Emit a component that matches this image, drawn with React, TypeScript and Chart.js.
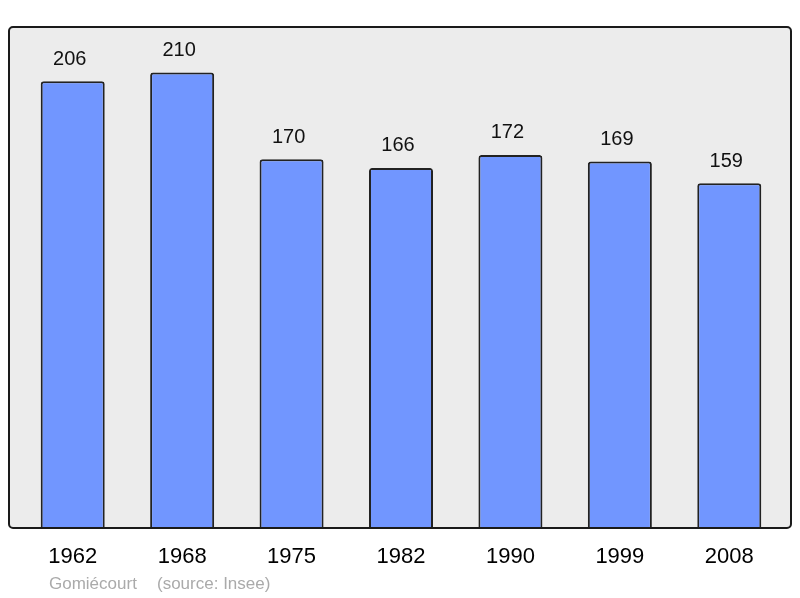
import React, { useEffect, useRef } from "react";
import { Chart, registerables } from "chart.js";

Chart.register(...registerables);

const years = ["1962", "1968", "1975", "1982", "1990", "1999", "2008"];
const population = [206, 210, 170, 166, 172, 169, 159];
const placeName = "Gomiécourt";
const sourceText = "(source: Insee)";

const FONT = "'Liberation Sans', Arial, sans-serif";

const framePlugin = {
  id: "frame",
  beforeDatasetsDraw(chart: any) {
    const { ctx, chartArea } = chart;
    const l = chartArea.left - 9, r = chartArea.right + 7, t = chartArea.top, b = chartArea.bottom;
    ctx.save();
    ctx.beginPath();
    ctx.roundRect(l, t, r - l, b - t, 4);
    ctx.fillStyle = "#ececec";
    ctx.fill();
    ctx.restore();
  },
  afterDatasetsDraw(chart: any) {
    const { ctx, chartArea } = chart;
    const l = chartArea.left - 9, r = chartArea.right + 7, t = chartArea.top, b = chartArea.bottom;
    const meta = chart.getDatasetMeta(0);
    ctx.save();
    ctx.font = `20px ${FONT}`;
    ctx.fillStyle = "#111";
    ctx.textAlign = "center";
    ctx.textBaseline = "middle";
    meta.data.forEach((bar: any, i: number) => {
      ctx.fillText(String(population[i]), bar.x - 3, bar.y - 22);
    });
    ctx.beginPath();
    ctx.roundRect(l, t, r - l, b - t, 4);
    ctx.lineWidth = 2;
    ctx.strokeStyle = "#1a1a1a";
    ctx.stroke();
    ctx.font = `17px ${FONT}`;
    ctx.fillStyle = "#aaaaaa";
    ctx.textAlign = "left";
    ctx.textBaseline = "alphabetic";
    ctx.fillText(placeName, l + 40, 589);
    ctx.fillText(sourceText, l + 148, 589);
    ctx.restore();
  },
};

export default function App() {
  const ref = useRef<HTMLCanvasElement>(null);
  useEffect(() => {
    document.body.style.margin = "0";
    const chart = new Chart(ref.current!, {
      type: "bar",
      data: {
        labels: years,
        datasets: [
          {
            data: population,
            backgroundColor: "#7196ff",
            borderColor: "#222",
            borderWidth: 2,
            borderRadius: 3,
            borderSkipped: "bottom",
            categoryPercentage: 1,
            barPercentage: 0.585,
          },
        ],
      },
      options: {
        animation: false,
        responsive: false,
        layout: { padding: { top: 27, left: 18, right: 16, bottom: 0 } },
        plugins: { legend: { display: false }, tooltip: { enabled: false } },
        scales: {
          x: {
            grid: { display: false, drawTicks: false },
            border: { display: false },
            ticks: { color: "#000", font: { family: FONT, size: 22 }, padding: 16 },
            afterFit(scale: any) {
              scale.height = 70;
            },
          },
          y: { display: false, min: 0, max: 231 },
        },
      },
      plugins: [framePlugin],
    });
    return () => chart.destroy();
  }, []);
  return (
    <div style={{ width: 800, height: 598 }}>
      <canvas ref={ref} width={800} height={598} />
    </div>
  );
}
